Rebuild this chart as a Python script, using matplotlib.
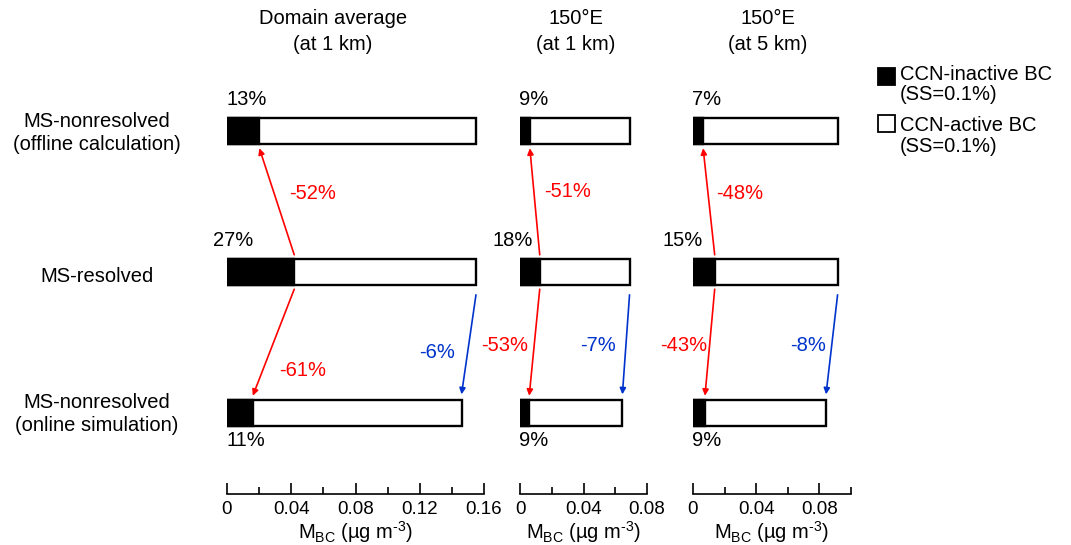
import matplotlib
matplotlib.use('Agg')
import matplotlib.pyplot as plt
from matplotlib.patches import Rectangle

plt.rcParams['font.family'] = ['Liberation Sans', 'DejaVu Sans']
plt.rcParams['mathtext.fontset'] = 'custom'
plt.rcParams['mathtext.rm'] = 'Liberation Sans'
plt.rcParams['mathtext.it'] = 'Liberation Sans:italic'

# rows: offline calculation, resolved, online simulation
rows = ['MS-nonresolved\n(offline calculation)', 'MS-resolved', 'MS-nonresolved\n(online simulation)']
row_y = [2, 1, 0]

panels = ['Domain average\n(at 1 km)', '150°E\n(at 1 km)', '150°E\n(at 5 km)']
# total BC mass (ug m-3) per row
totals = [[0.155, 0.155, 0.146],
          [0.069, 0.069, 0.0645],
          [0.0915, 0.0915, 0.0842]]
# CCN-inactive fraction (%)
inactive_pct = [[13, 27, 11],
                [9, 18, 9],
                [7, 15, 9]]
up_change = ['-52%', '-51%', '-48%']
down_change = ['-61%', '-53%', '-43%']
total_change = ['-6%', '-7%', '-8%']

xmax = [0.16, 0.08, 0.10]
major_ticks = [[0, 0.04, 0.08, 0.12, 0.16], [0, 0.04, 0.08], [0, 0.04, 0.08]]
tick_labels = [['0', '0.04', '0.08', '0.12', '0.16'], ['0', '0.04', '0.08'], ['0', '0.04', '0.08']]
minor_ticks = [[0.02, 0.06, 0.10, 0.14], [0.02, 0.06], [0.02, 0.06, 0.10]]

legend_labels = ['CCN-inactive BC\n(SS=0.1%)', 'CCN-active BC\n(SS=0.1%)']
legend_colors = ['black', 'white']

FS = 14.5
W, H = 1071, 545
fig = plt.figure(figsize=(W / 100, H / 100), dpi=100)

# axes placement in pixels: left, right
ax_px = [(227, 484), (520, 647), (693, 851)]
y_bottom_px, y_top_px = 494, 60
px_per_row = 141
ylo = -(y_bottom_px - 413) / px_per_row
yhi = (413 - y_top_px) / px_per_row
title_x = [333, 576, 768]

# label positions per panel (data coords): (x, y)
up_pos = [(0.053, 1.56), (0.0297, 1.57), (0.0297, 1.56)]
down_pos = [(0.047, 0.30), (-0.0095, 0.48), (-0.0057, 0.48)]
tot_pos = [(0.131, 0.43), (0.049, 0.48), (0.0726, 0.48)]
mid_offset = [-14, -28, -31]  # px offset of middle % label

bh = 26 / px_per_row
red = '#ff0000'
blue = '#0033cc'

for i in range(3):
    l, r = ax_px[i]
    ax = fig.add_axes([l / W, 1 - y_bottom_px / H, (r - l) / W, (y_bottom_px - y_top_px) / H])
    ax.set_xlim(0, xmax[i])
    ax.set_ylim(ylo, yhi)
    for s in ['left', 'right', 'top']:
        ax.spines[s].set_visible(False)
    ax.spines['bottom'].set_linewidth(1.2)
    ax.set_yticks([])
    ax.set_xticks(major_ticks[i])
    ax.set_xticklabels(tick_labels[i], fontsize=13.5)
    ax.set_xticks(minor_ticks[i], minor=True)
    ax.tick_params(axis='x', which='major', direction='in', length=8, width=1.2, pad=5)
    ax.tick_params(axis='x', which='minor', direction='in', length=5, width=1.2)
    ax.set_xlabel('M$_{\\mathrm{BC}}$ (µg m$^{\\mathrm{\u20103}}$)', fontsize=FS, labelpad=1)
    ax.patch.set_visible(False)

    inact = [totals[i][k] * inactive_pct[i][k] / 100 for k in range(3)]
    for k in range(3):
        ax.barh(row_y[k], totals[i][k], height=bh, color='white', edgecolor='black', linewidth=1.7)
        ax.barh(row_y[k], inact[k], height=bh, color='black', edgecolor='black', linewidth=1.7)

    # percent labels
    ax.annotate(f'{inactive_pct[i][0]}%', (0, row_y[0]), xytext=(-1 * 0.72, 31 * 0.72), textcoords='offset points',
                ha='left', va='center', fontsize=FS)
    ax.annotate(f'{inactive_pct[i][1]}%', (0, row_y[1]), xytext=(mid_offset[i] * 0.72, 31 * 0.72),
                textcoords='offset points', ha='left', va='center', fontsize=FS, annotation_clip=False)
    ax.annotate(f'{inactive_pct[i][2]}%', (0, row_y[2]), xytext=(-1 * 0.72, -28 * 0.72), textcoords='offset points',
                ha='left', va='center', fontsize=FS)

    ap = dict(arrowstyle='-|>', mutation_scale=9, lw=1.2, shrinkA=0, shrinkB=0)
    g = bh / 2 + 0.03
    ax.annotate('', xy=(inact[0], row_y[0] - g), xytext=(inact[1], row_y[1] + g),
                arrowprops=dict(ap, color=red), annotation_clip=False)
    ax.annotate('', xy=(inact[2], row_y[2] + g), xytext=(inact[1], row_y[1] - g),
                arrowprops=dict(ap, color=red), annotation_clip=False)
    ax.annotate('', xy=(totals[i][2], row_y[2] + g + 0.01), xytext=(totals[i][1], row_y[1] - g - 0.04),
                arrowprops=dict(ap, color=blue), annotation_clip=False)

    ax.text(*up_pos[i], up_change[i], color=red, fontsize=FS, ha='center', va='center', clip_on=False)
    ax.text(*down_pos[i], down_change[i], color=red, fontsize=FS, ha='center', va='center', clip_on=False)
    ax.text(*tot_pos[i], total_change[i], color=blue, fontsize=FS, ha='center', va='center', clip_on=False)

    fig.text(title_x[i] / W, 1 - 9 / H, panels[i], ha='center', va='top', fontsize=FS, linespacing=1.45)

row_px = [133, 277, 414]
for k in range(3):
    fig.text(97 / W, 1 - row_px[k] / H, rows[k], ha='center', va='center', fontsize=FS, linespacing=1.3)

# legend drawn by hand so the square sits on the first line
leg_top = [68, 115]
text_top = [65, 116]
for k in range(2):
    fig.add_artist(Rectangle((878 / W, 1 - (leg_top[k] + 17) / H), 17 / W, 17 / H, transform=fig.transFigure,
                             facecolor=legend_colors[k], edgecolor='black', linewidth=1.3))
    fig.text(900 / W, 1 - text_top[k] / H, legend_labels[k], ha='left', va='top', fontsize=FS,
             linespacing=1.1)

fig.savefig('out.png', dpi=100)
